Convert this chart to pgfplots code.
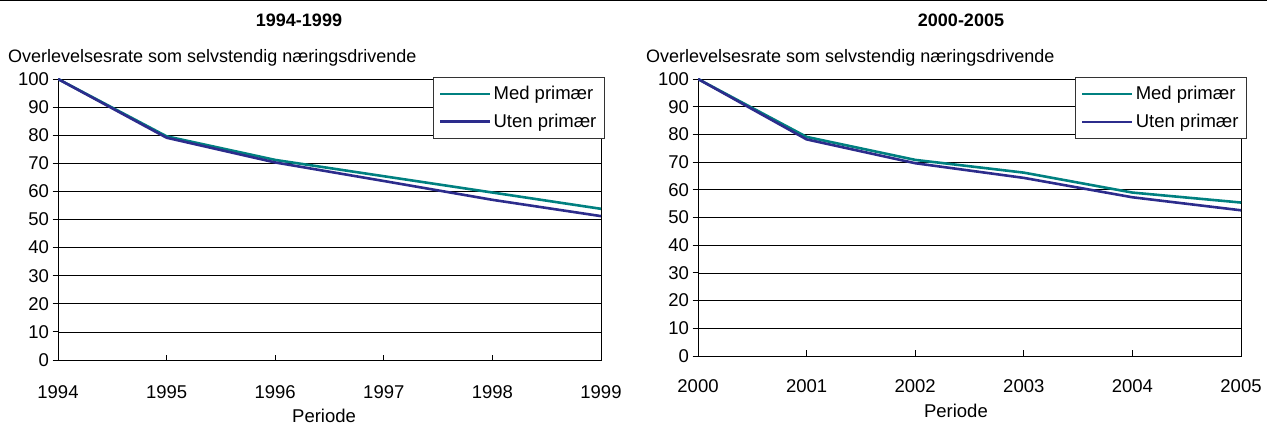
\documentclass[border=0pt]{standalone}
\usepackage{fontspec}
\setmainfont{Liberation Sans}
\usepackage{pgfplots}
\pgfplotsset{compat=1.18}
\definecolor{medc}{RGB}{0,128,128}
\definecolor{utenc}{RGB}{44,44,140}
\newcommand{\fs}{\fontsize{18.5}{22}\selectfont}
\pgfplotsset{
  myaxis/.style={
    scale only axis,
    width=543pt,
    ymin=0, ymax=100,
    ytick={0,10,...,100},
    axis line style={black, line width=0.9pt},
    ymajorgrids,
    major grid style={black, line width=0.8pt},
    tick style={black, line width=0.9pt},
    major tick length=5.5pt,
    xtick pos=bottom, ytick pos=left,
    xtick align=inside, ytick align=outside,
    /pgf/number format/assume math mode=true,
    /pgf/number format/1000 sep={},
    ticklabel style={font=\fs},
    label style={font=\fs},
    every axis plot/.append style={line width=2.6pt, line join=round},
    legend style={draw=black!80, line width=0.8pt, fill=white, font=\fs,
      anchor=north east, inner xsep=6pt, inner ysep=7pt, row sep=9pt,
      nodes={inner sep=2pt}},
    legend cell align=left,
    legend image code/.code={\draw[#1] (0pt,0pt) -- (50pt,0pt);},
  }
}
\begin{document}
\begin{tikzpicture}[x=1pt,y=1pt]
\path[use as bounding box] (0,0) rectangle (1267,426);
\fill[black] (0,424.5) rectangle (1267,426);
% titles
\node[font=\fontsize{18}{21}\selectfont\bfseries] at (299,406) {1994-1999};
\node[font=\fontsize{18}{21}\selectfont\bfseries] at (961,406) {2000-2005};
\node[font=\fontsize{18}{22}\selectfont, anchor=base west, inner sep=0pt] at (8,363) {Overlevelsesrate som selvstendig næringsdrivende};
\node[font=\fontsize{18}{22}\selectfont, anchor=base west, inner sep=0pt] at (646,363) {Overlevelsesrate som selvstendig næringsdrivende};

\begin{axis}[myaxis, at={(58pt,66pt)}, anchor=south west, height=281pt,
  xmin=1994, xmax=1999, xtick={1994,1995,1996,1997,1998,1999},
  xticklabel style={yshift=-22pt},
  xlabel={Periode},
  xlabel style={at={(axis description cs:0.49,0)}, anchor=center, yshift=-56pt},
  legend style={at={(1.007,1.007)}}]
\addplot[color=medc] coordinates {(1994,100) (1995,79.6) (1996,71.2) (1997,65.4) (1998,59.6) (1999,53.8)};
\addlegendentry{Med primær}
\addplot[color=utenc] coordinates {(1994,100) (1995,79.1) (1996,70.3) (1997,63.7) (1998,57.0) (1999,51.2)};
\addlegendentry{Uten primær}
\end{axis}

\begin{axis}[myaxis, at={(698pt,70pt)}, anchor=south west, height=277pt,
  xmin=2000, xmax=2005, xtick={2000,2001,2002,2003,2004,2005},
  xticklabel style={yshift=-20.5pt},
  xlabel={Periode},
  xlabel style={at={(axis description cs:0.475,0)}, anchor=center, yshift=-55pt},
  legend style={at={(1.011,1.007)}}]
\addplot[color=medc] coordinates {(2000,100) (2001,79.1) (2002,70.8) (2003,66.2) (2004,59.0) (2005,55.4)};
\addlegendentry{Med primær}
\addplot[color=utenc] coordinates {(2000,100) (2001,78.2) (2002,69.6) (2003,64.3) (2004,57.3) (2005,52.6)};
\addlegendentry{Uten primær}
\end{axis}
\end{tikzpicture}
\end{document}
